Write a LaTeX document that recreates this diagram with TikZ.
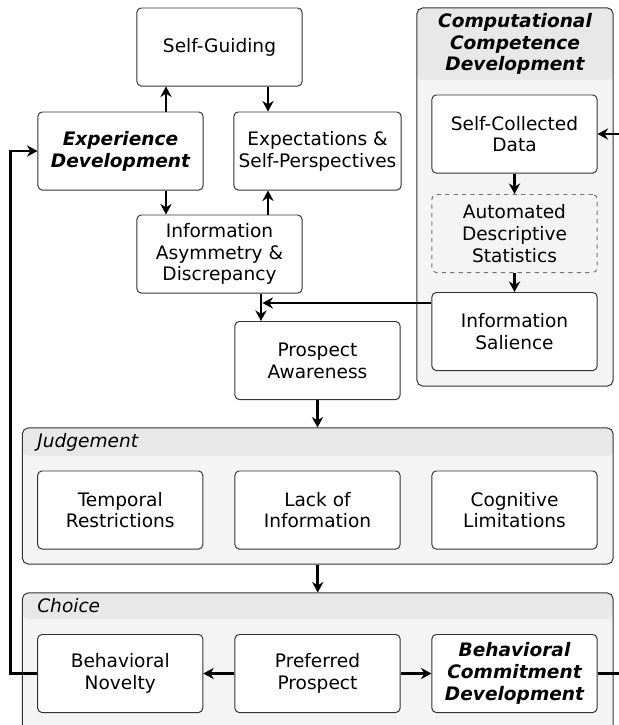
\documentclass[tikz,border=0pt]{standalone}
\usepackage{fontspec}
\setmainfont{DejaVu Sans}
\usetikzlibrary{arrows.meta, calc}
\definecolor{Grpfill}{RGB}{244,244,244}
\definecolor{Hdrfill}{RGB}{232,232,232}
\newcommand{\boxfont}{\fontsize{13.2}{15.5}\selectfont}

\begin{document}
\begin{tikzpicture}[
  x=0.025cm, y=-0.025cm,
  font=\boxfont,
  box/.style={draw=black!80, rounded corners=3pt, minimum width=4.125cm,
              minimum height=1.95cm, align=center, fill=white, line width=0.7pt},
  keybox/.style={box, font=\boxfont\bfseries\itshape},
  optbox/.style={box, dashed, draw=black!55, fill=Grpfill},
  grp/.style={draw=black!80, rounded corners=4pt, fill=Grpfill, line width=0.7pt,
              path picture={\fill[Hdrfill] (path picture bounding box.north west)
                rectangle ([yshift=-#1]path picture bounding box.north east);}},
  grptitle/.style={anchor=west, inner sep=0pt, font=\boxfont\itshape},
  arr/.style={-{Stealth[length=7.5pt, width=8pt]}, line width=2pt}
]
\useasboundingbox (0,0) rectangle (619,725);
\clip (0,0) rectangle (619,725);

%% ——— Upper left: experience loop ———
\node[box]    (selfguid) at (219.5,47)  {Self-Guiding};
\node[keybox] (expdev)   at (120.5,151) {Experience\\Development};
\node[box]    (expect)   at (317.5,151) {Expectations \&\\Self-Perspectives};
\node[box]    (infoasym) at (219.5,254) {Information\\Asymmetry \&\\Discrepancy};
\node[box]    (prospect) at (317.5,360.5) {Prospect\\Awareness};

\coordinate (c1) at ([xshift=-0.1cm]$(expdev.north east)!0.5!(selfguid.south west)$);
\coordinate (c2) at ($(selfguid.south east)!0.5!(expect.north west)$);
\draw[arr] (c1 |- expdev.north) -- (c1 |- selfguid.south);
\draw[arr] (c2 |- selfguid.south) -- (c2 |- expect.north);
\draw[arr] (c1 |- expdev.south) -- (c1 |- infoasym.north);
\draw[arr] (c2 |- infoasym.north) -- (c2 |- expect.south);

%% ——— Right: computational competence ———
\node[grp=1.8cm, minimum width=4.9cm, minimum height=9.45cm] (comp) at (515,197) {};
\node[align=center, font=\boxfont\bfseries\itshape] (comptitle) at (515,44)
  {Computational\\Competence\\Development};
\node[box]    (selfcoll) at (514.5,134)   {Self-Collected\\Data};
\node[optbox] (autostat) at (514.5,233.5) {Automated\\Descriptive\\Statistics};
\node[box]    (infosal)  at (514.5,331.5) {Information\\Salience};

\draw[arr] (selfcoll) -- (autostat);
\draw[arr] (autostat) -- (infosal);

%% Asymmetry + Salience -> Prospect
\coordinate (merge) at (261,303);
\draw[arr] (merge |- infoasym.south) -- (merge |- prospect.north);
\draw[arr] (infosal.west |- merge) -- ([xshift=1pt]merge);

%% ——— Judgement ———
\node[grp=0.7cm, minimum width=14.76cm, minimum height=3.4cm] (judg) at (317.75,496) {};
\node[grptitle] (judgtitle) at (37,442) {Judgement};
\node[box] (temporal)  at (120.25,510) {Temporal\\Restrictions};
\node[box] (lackinfo)  at (317.5,510)  {Lack of\\Information};
\node[box] (cognitive) at (514.5,510)  {Cognitive\\Limitations};

\draw[arr] (prospect.south) -- (prospect.south |- judg.north);

%% ——— Choice ———
\node[grp=0.65cm, minimum width=14.76cm, minimum height=3.675cm] (choice) at (317.75,666.5) {};
\node[grptitle] (choicetitle) at (37,606) {Choice};
\node[box]    (behnov)    at (120.25,673.5) {Behavioral\\Novelty};
\node[box]    (prefprosp) at (317.5,673.5)  {Preferred\\Prospect};
\node[keybox] (behcom)    at (514.5,673.5)  {Behavioral\\Commitment\\Development};

\draw[arr] (judg.south) -- (judg.south |- choice.north);
\draw[arr] (prefprosp) -- (behnov);
\draw[arr] (prefprosp) -- (behcom);

%% Feedback loops
\draw[arr] (behnov.west) -- ++(-26.5,0) |- (expdev.west);
\draw[arr] (behcom.east) -- ++(40,0) |- (selfcoll.east);

\end{tikzpicture}
\end{document}
